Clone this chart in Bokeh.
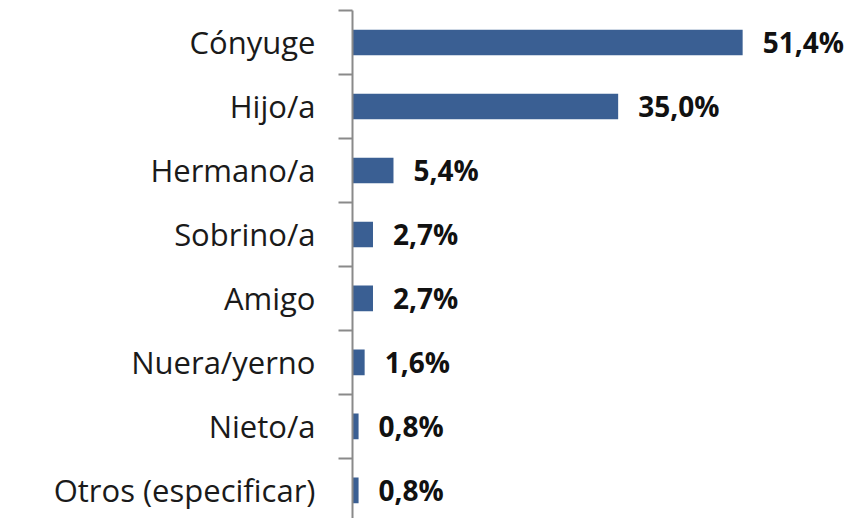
from bokeh.plotting import figure
from bokeh.models import Range1d, FixedTicker, ColumnDataSource
from bokeh.core.properties import value
from bokeh.embed import file_html
from bokeh.resources import INLINE

categories = ["Cónyuge", "Hijo/a", "Hermano/a", "Sobrino/a", "Amigo",
              "Nuera/yerno", "Nieto/a", "Otros (especificar)"]
values = [51.4, 35.0, 5.4, 2.7, 2.7, 1.6, 0.8, 0.8]
value_labels = ["51,4%", "35,0%", "5,4%", "2,7%", "2,7%", "1,6%", "0,8%", "0,8%"]

centers = [i + 0.5 for i in range(len(categories))]
bounds = list(range(len(categories) + 1))

src = ColumnDataSource(dict(y=centers, v=values, lab=value_labels))

p = figure(width=856, height=518, output_backend="svg", toolbar_location=None,
           x_range=Range1d(0, 66.4), y_range=Range1d(7.94, 0),
           x_axis_location=None, min_border_left=352, min_border_right=0,
           min_border_top=10, min_border_bottom=0)
p.outline_line_color = None
p.grid.visible = False
p.background_fill_color = "white"
p.border_fill_color = "white"

p.hbar(y="y", right="v", left=0, height=0.4, source=src,
       fill_color="#3a5f93", line_color=None)

p.text(x="v", y="y", text="lab", source=src, x_offset=20,
       text_font=value("Open Sans"), text_font_style="bold",
       text_font_size="28px", text_color="#111111",
       text_baseline="middle", text_align="left")

ax = p.yaxis[0]
ax.ticker = FixedTicker(ticks=centers, minor_ticks=bounds)
ax.major_label_overrides = {c: n for c, n in zip(centers, categories)}
ax.major_tick_out = 0
ax.major_tick_in = 0
ax.minor_tick_out = 14
ax.minor_tick_in = 0
ax.minor_tick_line_color = "#8a8a8a"
ax.minor_tick_line_width = 2
ax.axis_line_color = "#8a8a8a"
ax.axis_line_width = 2
ax.major_label_standoff = 23
ax.major_label_text_font = "Open Sans"
ax.major_label_text_font_size = "31px"
ax.major_label_text_color = "#1a1a1a"

open("out.html", "w").write(file_html(p, INLINE))
